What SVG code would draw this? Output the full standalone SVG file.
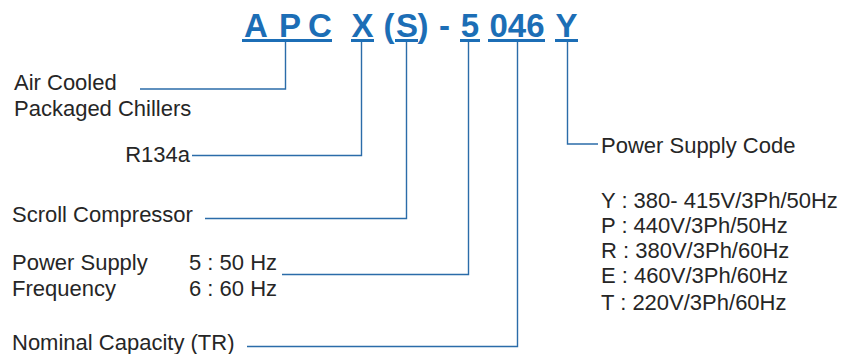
<svg xmlns="http://www.w3.org/2000/svg" width="842" height="354" viewBox="0 0 842 354">
<style>
.t{font-family:"Liberation Sans",Arial,sans-serif;font-size:22px;fill:#262626}
.h{font-family:"Liberation Sans",Arial,sans-serif;font-size:33px;font-weight:bold;fill:#1c6eb6;text-anchor:middle}
.u{stroke:#1c6eb6;stroke-width:3;fill:none}
.c{stroke:#2b6ca9;stroke-width:1.4;fill:none}
</style>
<rect width="842" height="354" fill="#fff"/>
<g id="code">
<text class="h" x="256" y="37">A</text>
<text class="h" x="290" y="37">P</text>
<text class="h" x="320" y="37">C</text>
<text class="h" x="362.5" y="37">X</text>
<text class="h" x="389" y="37">(</text>
<text class="h" x="407" y="37">S</text>
<text class="h" x="423" y="37">)</text>
<text class="h" x="444.5" y="37">-</text>
<text class="h" x="470" y="37">5</text>
<text class="h" x="517" y="37">046</text>
<text class="h" x="566.5" y="37">Y</text>
<path class="u" d="M242 40.5H332M351 40.5H374M395 40.5H418M460 40.5H480M488 40.5H545M555 40.5H578"/>
</g>
<g id="connectors">
<path class="c" d="M285.5 42V89H140"/>
<path class="c" d="M361.5 42V155.5H192"/>
<path class="c" d="M406.5 42V218.5H205"/>
<path class="c" d="M468.5 42V274.5H282"/>
<path class="c" d="M517.5 42V346.5H247"/>
<path class="c" d="M567.5 42V144H598"/>
</g>
<g id="air-cooled"><text class="t" x="14" y="90">Air Cooled</text><text class="t" x="14" y="116">Packaged Chillers</text></g>
<g id="r134a"><text class="t" x="190" y="162" text-anchor="end">R134a</text></g>
<g id="scroll"><text class="t" x="12" y="222">Scroll Compressor</text></g>
<g id="frequency">
<text class="t" x="12" y="270">Power Supply</text><text class="t" x="189" y="270">5 : 50 Hz</text>
<text class="t" x="12" y="296">Frequency</text><text class="t" x="189" y="296">6 : 60 Hz</text>
</g>
<g id="capacity"><text class="t" x="12" y="350">Nominal Capacity (TR)</text></g>
<g id="power-code">
<text class="t" x="601" y="153">Power Supply Code</text>
<text class="t" x="601" y="208">Y : 380- 415V/3Ph/50Hz</text>
<text class="t" x="601" y="233">P : 440V/3Ph/50Hz</text>
<text class="t" x="601" y="258">R : 380V/3Ph/60Hz</text>
<text class="t" x="601" y="283">E : 460V/3Ph/60Hz</text>
<text class="t" x="601" y="310">T : 220V/3Ph/60Hz</text>
</g>
</svg>
